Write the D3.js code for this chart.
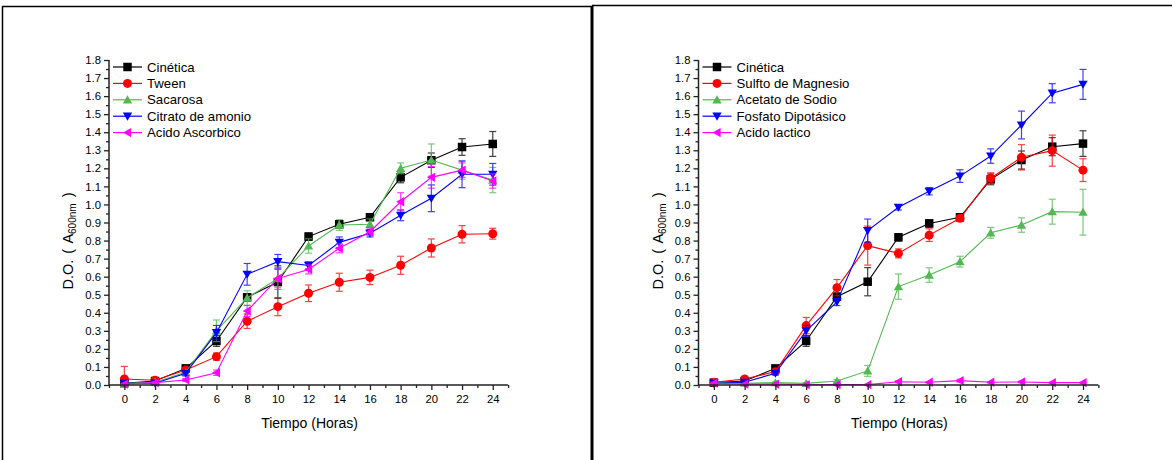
<!DOCTYPE html>
<html>
<head>
<meta charset="utf-8">
<script src="https://cdn.jsdelivr.net/npm/d3@7"></script>
<style>
  html, body { margin: 0; padding: 0; background: #fff; }
  svg { display: block; font-family: "Liberation Sans", Arial, sans-serif; }
</style>
</head>
<body>
<svg id="chart" width="1172" height="460"></svg>
<script>
// Sampling times (hours)
const hours = [0, 2, 4, 6, 8, 10, 12, 14, 16, 18, 20, 22, 24];
const xTicks = [0, 2, 4, 6, 8, 10, 12, 14, 16, 18, 20, 22, 24];
const yTicks = [0.0, 0.1, 0.2, 0.3, 0.4, 0.5, 0.6, 0.7, 0.8, 0.9, 1.0, 1.1, 1.2, 1.3, 1.4, 1.5, 1.6, 1.7, 1.8];

// Left panel: optical density per treatment, with error
const leftNames = ["Cinética", "Tween", "Sacarosa", "Citrato de amonio", "Acido Ascorbico"];
const leftCinetica     = [0.010, 0.022, 0.092, 0.244, 0.486, 0.570, 0.822, 0.890, 0.929, 1.150, 1.245, 1.318, 1.335];
const leftCineticaErr  = [0.005, 0.005, 0.010, 0.030, 0.020, 0.090, 0.020, 0.020, 0.015, 0.030, 0.040, 0.046, 0.069];
const leftTween        = [0.033, 0.026, 0.083, 0.157, 0.353, 0.434, 0.508, 0.569, 0.596, 0.663, 0.759, 0.835, 0.838];
const leftTweenErr     = [0.070, 0.008, 0.010, 0.020, 0.040, 0.050, 0.046, 0.050, 0.040, 0.050, 0.050, 0.048, 0.030];
const leftSacarosa     = [0.010, 0.015, 0.070, 0.300, 0.482, 0.590, 0.770, 0.886, 0.890, 1.200, 1.246, 1.190, 1.135];
const leftSacarosaErr  = [0.005, 0.005, 0.010, 0.060, 0.040, 0.050, 0.040, 0.030, 0.030, 0.030, 0.089, 0.050, 0.070];
const leftCitrato      = [0.010, 0.010, 0.065, 0.290, 0.613, 0.683, 0.662, 0.790, 0.840, 0.940, 1.034, 1.167, 1.167];
const leftCitratoErr   = [0.005, 0.005, 0.015, 0.040, 0.060, 0.040, 0.020, 0.030, 0.020, 0.030, 0.074, 0.074, 0.060];
const leftAscorbico    = [0.005, 0.013, 0.028, 0.068, 0.410, 0.590, 0.640, 0.757, 0.849, 1.015, 1.150, 1.190, 1.130];
const leftAscorbicoErr = [0.003, 0.005, 0.008, 0.015, 0.030, 0.060, 0.025, 0.025, 0.020, 0.050, 0.060, 0.040, 0.040];

// Right panel
const rightNames = ["Cinética", "Sulfto de Magnesio", "Acetato de Sodio", "Fosfato Dipotásico", "Acido lactico"];
const rightCinetica    = [0.013, 0.022, 0.092, 0.244, 0.489, 0.572, 0.818, 0.895, 0.929, 1.139, 1.246, 1.320, 1.337];
const rightCineticaErr = [0.005, 0.008, 0.010, 0.030, 0.020, 0.078, 0.020, 0.020, 0.015, 0.030, 0.050, 0.050, 0.071];
const rightSulfato     = [0.015, 0.033, 0.074, 0.329, 0.539, 0.772, 0.729, 0.830, 0.923, 1.145, 1.261, 1.298, 1.190];
const rightSulfatoErr  = [0.008, 0.010, 0.010, 0.045, 0.045, 0.108, 0.025, 0.035, 0.015, 0.030, 0.070, 0.086, 0.063];
const rightAcetato     = [0.015, 0.010, 0.013, 0.009, 0.022, 0.078, 0.545, 0.609, 0.683, 0.843, 0.886, 0.960, 0.957];
const rightAcetatoErr  = [0.008, 0.005, 0.005, 0.005, 0.008, 0.030, 0.070, 0.040, 0.030, 0.030, 0.040, 0.069, 0.127];
const rightFosfato     = [0.010, 0.015, 0.065, 0.300, 0.460, 0.855, 0.984, 1.073, 1.157, 1.268, 1.440, 1.616, 1.665];
const rightFosfatoErr  = [0.005, 0.005, 0.010, 0.030, 0.020, 0.064, 0.015, 0.020, 0.035, 0.040, 0.077, 0.053, 0.083];
const rightLactico     = [0.010, 0.005, 0.005, 0.002, 0.002, 0.002, 0.018, 0.015, 0.024, 0.015, 0.017, 0.013, 0.013];
const rightLacticoErr  = [0.005, 0.003, 0.003, 0.002, 0.002, 0.002, 0.005, 0.004, 0.008, 0.004, 0.004, 0.003, 0.003];

const colors = ["#000000", "#ff0000", "#52b852", "#0000ff", "#ff00ff"];
const shapes = ["square", "circle", "triangleUp", "triangleDown", "triangleLeft"];

const svg = d3.select("#chart");

// Page frame (table cell borders)
const frame = svg.append("g");
frame.append("line").attr("x1", 2).attr("x2", 592).attr("y1", 6.5).attr("y2", 6.5).attr("stroke", "#000").attr("stroke-width", 1.5);
frame.append("line").attr("x1", 592).attr("x2", 1172).attr("y1", 5.5).attr("y2", 5.5).attr("stroke", "#000").attr("stroke-width", 1.5);
frame.append("line").attr("x1", 2.5).attr("x2", 2.5).attr("y1", 6).attr("y2", 460).attr("stroke", "#000").attr("stroke-width", 1.5);
frame.append("line").attr("x1", 592).attr("x2", 592).attr("y1", 6).attr("y2", 460).attr("stroke", "#000").attr("stroke-width", 3);

function markerPath(shape, s) {
  const h = s / 2;
  switch (shape) {
    case "square": return `M${-h},${-h}H${h}V${h}H${-h}Z`;
    case "circle": return d3.symbol(d3.symbolCircle, Math.PI * h * h)();
    case "triangleUp": return `M0,${-h * 1.05}L${h * 1.1},${h * 0.85}L${-h * 1.1},${h * 0.85}Z`;
    case "triangleDown": return `M0,${h * 1.05}L${h * 1.1},${-h * 0.85}L${-h * 1.1},${-h * 0.85}Z`;
    case "triangleLeft": return `M${-h * 1.05},0L${h * 0.85},${-h * 1.1}L${h * 0.85},${h * 1.1}Z`;
  }
}

function drawPanel(opts) {
  const { x0, names, series, errs } = opts;
  const xAxisLeft = x0;           // pixel where x = -1
  const hourPx = opts.hourPx;
  const x = d3.scaleLinear().domain([-1, 25]).range([xAxisLeft, xAxisLeft + 26 * hourPx]);
  const y = d3.scaleLinear().domain([0, 1.8]).range([385, 60]);
  const g = svg.append("g");

  // Data: error bars, lines and markers (drawn in series order)
  series.forEach((vals, si) => {
    const col = colors[si];
    const sg = g.append("g");
    const pts = hours.map((h, i) => ({ h, v: vals[i], e: errs[si][i] }));
    const eb = sg.append("g").attr("stroke", col).attr("stroke-width", 1.2).attr("opacity", 0.75);
    pts.forEach(p => {
      const xp = x(p.h), yt = y(p.v + p.e), yb = y(Math.max(p.v - p.e, 0));
      eb.append("line").attr("x1", xp).attr("x2", xp).attr("y1", yt).attr("y2", yb);
      eb.append("line").attr("x1", xp - 3.5).attr("x2", xp + 3.5).attr("y1", yt).attr("y2", yt);
      if (p.v - p.e > 0) eb.append("line").attr("x1", xp - 3.5).attr("x2", xp + 3.5).attr("y1", yb).attr("y2", yb);
    });
    sg.append("path")
      .attr("d", d3.line().x(p => x(p.h)).y(p => y(p.v))(pts))
      .attr("fill", "none").attr("stroke", col).attr("stroke-width", 1.1);
    sg.selectAll("path.m").data(pts).join("path").attr("class", "m")
      .attr("transform", p => `translate(${x(p.h)},${y(p.v)})`)
      .attr("d", markerPath(shapes[si], shapes[si] === "circle" ? 9 : 8.5))
      .attr("fill", col);
  });

  // Axes
  const axisColor = "#222";
  const yAxis = g.append("g").attr("transform", `translate(${xAxisLeft},0)`)
    .call(d3.axisLeft(y).tickValues(yTicks).tickFormat(d3.format(".1f")).tickSize(5).tickPadding(3));
  const yMinor = g.append("g").attr("transform", `translate(${xAxisLeft},0)`)
    .call(d3.axisLeft(y).tickValues(d3.range(0.05, 1.8, 0.1)).tickFormat("").tickSize(3));
  const xAxis = g.append("g").attr("transform", `translate(0,385)`)
    .call(d3.axisBottom(x).tickValues(xTicks).tickFormat(d3.format("d")).tickSize(5).tickPadding(5));
  const xMinor = g.append("g").attr("transform", `translate(0,385)`)
    .call(d3.axisBottom(x).tickValues(d3.range(-1, 26, 2)).tickFormat("").tickSize(3));
  [yAxis, yMinor, xAxis, xMinor].forEach(a => {
    a.select(".domain").attr("stroke", axisColor).attr("stroke-width", 1.5);
    a.selectAll(".tick line").attr("stroke", axisColor).attr("stroke-width", 1.3);
    a.selectAll("text").attr("font-size", 11.3).attr("fill", "#000").attr("font-family", "Liberation Sans, Arial, sans-serif");
  });
  yAxis.select(".domain").attr("d", `M0,385V60`);
  yMinor.select(".domain").remove();
  xAxis.select(".domain").attr("d", `M${xAxisLeft},0H${x(25)}`);
  xMinor.select(".domain").remove();

  // Axis titles
  const midX = (x(-1) + x(25)) / 2;
  g.append("text").attr("x", midX + 1).attr("y", 428).attr("text-anchor", "middle")
    .attr("font-size", 14).text("Tiempo (Horas)");
  const yl = g.append("text").attr("transform", `translate(${xAxisLeft - 36},${241}) rotate(-90)`)
    .attr("text-anchor", "middle").attr("font-size", 14.5).attr("word-spacing", 2);
  yl.append("tspan").text("D.O. ( A");
  yl.append("tspan").attr("font-size", 10).attr("dy", 3).text("600nm");
  yl.append("tspan").attr("dy", -3).text(" )");

  // Legend
  const lg = g.append("g");
  names.forEach((n, i) => {
    const ly = 67 + i * 16.4;
    const lx = xAxisLeft + 4;
    lg.append("line").attr("x1", lx).attr("x2", lx + 29).attr("y1", ly).attr("y2", ly)
      .attr("stroke", colors[i]).attr("stroke-width", 1.2);
    lg.append("path").attr("transform", `translate(${lx + 14.5},${ly})`)
      .attr("d", markerPath(shapes[i], shapes[i] === "circle" ? 9 : 8.5)).attr("fill", colors[i]);
    lg.append("text").attr("x", lx + 34).attr("y", ly + 4.5).attr("font-size", 13.2).text(n);
  });
}

drawPanel({
  x0: 109, hourPx: 15.35, names: leftNames,
  series: [leftCinetica, leftTween, leftSacarosa, leftCitrato, leftAscorbico],
  errs: [leftCineticaErr, leftTweenErr, leftSacarosaErr, leftCitratoErr, leftAscorbicoErr]
});
drawPanel({
  x0: 698.5, hourPx: 15.38, names: rightNames,
  series: [rightCinetica, rightSulfato, rightAcetato, rightFosfato, rightLactico],
  errs: [rightCineticaErr, rightSulfatoErr, rightAcetatoErr, rightFosfatoErr, rightLacticoErr]
});
</script>
</body>
</html>
